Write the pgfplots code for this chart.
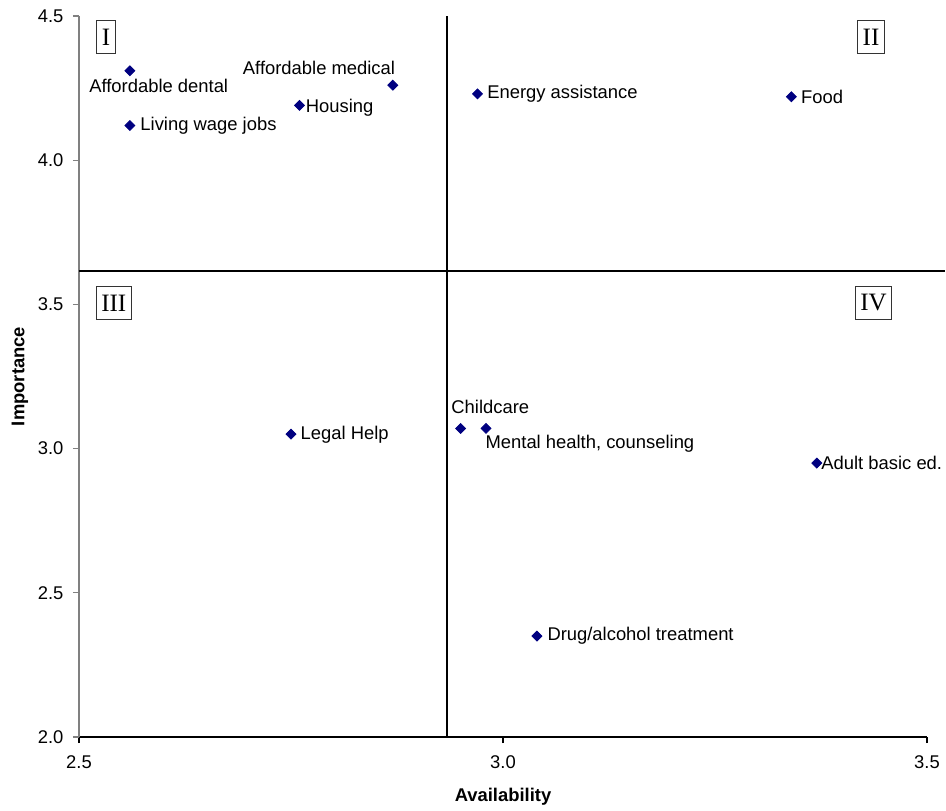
\documentclass[border=0pt]{standalone}
\usepackage{fontspec}
\setmainfont{Liberation Sans}
\newfontfamily\timesfont{Liberation Serif}
\usepackage{pgfplots}
\pgfplotsset{compat=1.18}
\definecolor{navy}{RGB}{0,0,128}
\pgfplotstableread{
x y
2.56 4.31
2.56 4.12
2.76 4.19
2.87 4.26
2.97 4.23
3.34 4.22
2.75 3.05
2.95 3.07
2.98 3.07
3.37 2.95
3.04 2.35
}\pts
\begin{document}
\fontsize{9.2}{11}\selectfont
\begin{tikzpicture}
\useasboundingbox (-39.5pt,-36.5pt) rectangle (433.5pt,368.5pt);
\begin{axis}[
  scale only axis, width=424pt, height=360.5pt,
  at={(0,0)}, anchor=south west,
  xmin=2.5, xmax=3.5, ymin=2, ymax=4.5,
  axis x line*=bottom, axis y line*=left,
  x axis line style={black, line width=0.6pt},
  y axis line style={gray, line width=0.6pt},
  xtick={2.5,3,3.5}, ytick={2,2.5,3,3.5,4,4.5},
  xticklabel style={/pgf/number format/.cd, fixed, fixed zerofill, precision=1},
  yticklabel style={/pgf/number format/.cd, fixed, fixed zerofill, precision=1},
  /pgf/number format/assume math mode=true,
  tick align=outside, major tick length=3pt,
  x tick style={black, line width=0.6pt},
  y tick style={gray, line width=0.6pt},
  every tick label/.append style={font=\fontsize{9.2}{11}\selectfont},
  xticklabel shift=3pt,
  yticklabel shift=1.5pt,
  xlabel={\bfseries Availability},
  ylabel={\bfseries Importance},
  xlabel style={at={(axis description cs:0.5,0)}, anchor=center, yshift=-30pt, font=\fontsize{9.2}{11}\selectfont},
  ylabel style={at={(axis description cs:0,0.5)}, anchor=center, yshift=29.5pt, font=\fontsize{9.2}{11}\selectfont},
  clip=false,
]
\addplot[black, line width=0.7pt, forget plot] coordinates {(2.934,2) (2.934,4.5)};
\addplot[black, line width=0.7pt, forget plot] coordinates {(2.5,3.616) (3.521,3.616)};
\addplot[only marks, mark=square*, mark size=1.75pt, mark options={rotate=45}, color=navy, fill=navy] table {\pts};

\begin{scope}[every node/.style={inner sep=0pt, font=\fontsize{9.2}{11}\selectfont}]
\node[anchor=center] at (axis cs:2.594,4.257) {Affordable dental};
\node[anchor=west] at (axis cs:2.572,4.119) {Living wage jobs};
\node[anchor=west] at (axis cs:2.767,4.181) {Housing};
\node[anchor=center] at (axis cs:2.783,4.320) {Affordable medical};
\node[anchor=west] at (axis cs:2.981,4.230) {Energy assistance};
\node[anchor=west] at (axis cs:3.351,4.219) {Food};
\node[anchor=west] at (axis cs:2.761,3.047) {Legal Help};
\node[anchor=center] at (axis cs:2.985,3.144) {Childcare};
\node[anchor=west] at (axis cs:2.979,3.016) {Mental health, counseling};
\node[anchor=west] at (axis cs:3.375,2.950) {Adult basic ed.};
\node[anchor=west] at (axis cs:3.052,2.350) {Drug/alcohol treatment};
\end{scope}

\begin{scope}[every node/.style={draw=black!80, line width=0.5pt, inner xsep=2.5pt, inner ysep=0pt, minimum height=16.5pt, font=\timesfont\fontsize{12.5}{14}\selectfont}]
\node at (axis cs:2.532,4.427) {I};
\node at (axis cs:3.434,4.427) {II};
\node at (axis cs:2.541,3.505) {III};
\node at (axis cs:3.437,3.505) {IV};
\end{scope}
\end{axis}
\end{tikzpicture}
\end{document}
